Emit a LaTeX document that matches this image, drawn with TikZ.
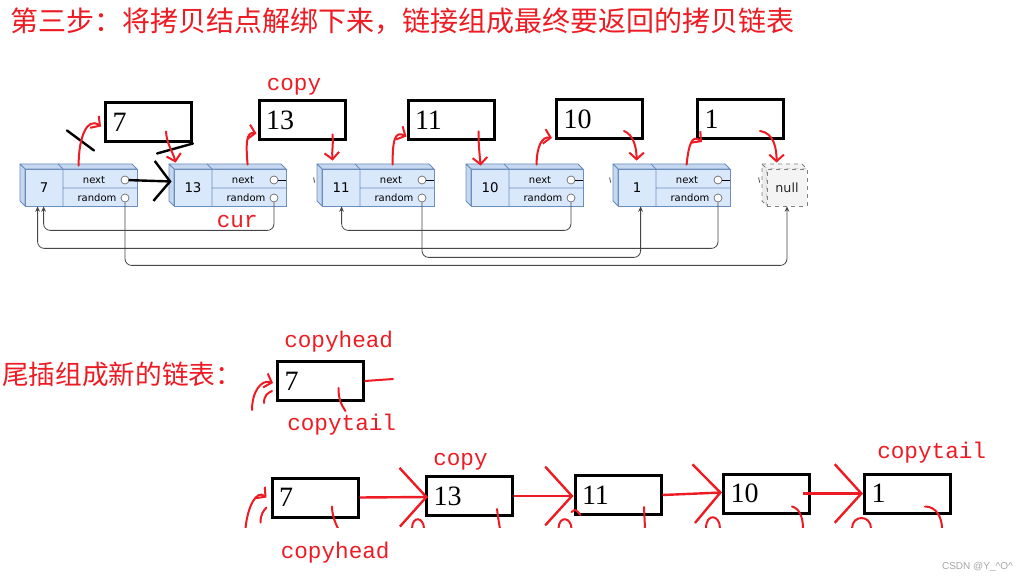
\documentclass[tikz,border=0pt]{standalone}
\usepackage{fontspec}
\setmainfont{Liberation Serif}
\setsansfont{DejaVu Sans}
\setmonofont{Liberation Mono}
\newfontfamily\cjk{Noto Sans CJK SC}
\newfontfamily\wmfont{Liberation Sans}
\usepackage{tikz}
\usetikzlibrary{arrows,arrows.meta,positioning,calc}
\usepackage{xcolor}

\definecolor{handred}{RGB}{237,28,36}
\definecolor{lnfill}{RGB}{218,232,252}
\definecolor{lnside}{RGB}{198,215,240}
\definecolor{lnedge}{RGB}{108,142,191}
\definecolor{nullfill}{RGB}{244,244,244}
\definecolor{randgray}{RGB}{70,70,70}

% one node of the old list: 3d box, value, next and random
\newcommand{\ListNode}[3]{%
  \filldraw[side face] (#2,164) -- (#2+112,164) -- (#2+117,169) -- (#2+5,169) -- cycle;
  \filldraw[side face] (#2,164) -- (#2+5,169) -- (#2+5,206) -- (#2,201) -- cycle;
  \node[front face] (#1) at (#2+61,187.5) {};
  \draw[face line] (#2+38,164) -- (#2+43,169) -- (#2+43,206)
                   (#2+43,188) -- (#2+117,188);
  \node[value] (#1-v) at (#2+24,188) {#3};
  \node[small text] (#1-nt) at (#2+74,180) {next};
  \node[small text] (#1-rt) at (#2+77,198) {random};
  \node[ptr] (#1-nx) at (#2+105,180) {};
  \node[ptr] (#1-rd) at (#2+105,198) {};
}

\begin{document}
\begin{tikzpicture}[x=0.75pt,y=-0.75pt,>=stealth']
  \tikzstyle{side face}=[fill=lnside,draw=lnedge,line width=0.6pt,line join=round]
  \tikzstyle{front face}=[draw=lnedge,fill=lnfill,line width=0.6pt,minimum width=84pt,minimum height=27.75pt,inner sep=0pt]
  \tikzstyle{face line}=[draw=lnedge,line width=0.6pt]
  \tikzstyle{value}=[font=\sffamily\fontsize{10}{11}\selectfont]
  \tikzstyle{small text}=[font=\sffamily\fontsize{7.5}{8}\selectfont,inner sep=0pt]
  \tikzstyle{ptr}=[circle,draw=gray!80!black,fill=white,line width=0.5pt,inner sep=0pt,minimum size=6pt]
  \tikzstyle{rand line}=[draw=randgray,line width=0.6pt,rounded corners=5pt,-{Stealth[length=4pt,width=3.5pt]}]
  \tikzstyle{copy box}=[draw=black,line width=2.25pt,minimum width=64.5pt,minimum height=29.25pt,text width=54pt,align=left,inner xsep=5pt,font=\fontsize{21}{23}\selectfont]
  \tikzstyle{red tag}=[text=handred,font=\ttfamily\fontsize{17}{19}\selectfont,inner sep=0pt]
  \tikzstyle{cjk tag}=[text=handred,font=\cjk\fontsize{20}{22}\selectfont,inner sep=0pt]
  \tikzstyle{hand}=[draw=handred,line width=1.5pt,line cap=round,-{Straight Barb[length=5pt,width=11pt]}]
  \tikzstyle{hand line}=[draw=handred,line width=1.5pt,line cap=round]
  \tikzstyle{big hand}=[draw=handred,line width=1.8pt,-{Straight Barb[length=20pt,width=44pt]}]
  \tikzstyle{black line}=[draw=black,line width=1.8pt,line cap=round]

  \useasboundingbox (0,0) rectangle (1020,580);
  \fill[white] (0,0) rectangle (1020,580);

  \node[text=handred,font=\cjk\fontsize{21}{24}\selectfont,inner sep=0pt,anchor=base west] (title) at (10,32)
    {第三步：将拷贝结点解绑下来，链接组成最终要返回的拷贝链表};

  % old list
  \ListNode{n7}{20}{7}
  \ListNode{n13}{169}{13}
  \ListNode{n11}{317}{11}
  \ListNode{n10}{466}{10}
  \ListNode{n1}{613}{1}

  \filldraw[fill=nullfill,draw=gray,dashed,line width=0.6pt] (762,164) -- (802,164) -- (807,169) -- (767,169) -- cycle;
  \filldraw[fill=gray!15,draw=gray,dashed,line width=0.6pt] (762,164) -- (767,169) -- (767,206) -- (762,201) -- cycle;
  \node[draw=gray,dashed,fill=nullfill,line width=0.6pt,minimum width=30pt,minimum height=27.75pt,inner sep=0pt,
        font=\sffamily\fontsize{9.5}{10}\selectfont,text=gray!30!black] (nul) at (787,187.5) {null};

  \foreach \n in {n13,n11,n10,n1}
    \draw[black,line width=0.6pt] (\n-nx) -- (\n.east |- \n-nx);
  \foreach \n in {n11,n1,nul}
    \draw[randgray,line width=0.6pt] ($(\n.west)+(-8,-10)$) -- +(1,5);

  % random pointers
  \draw[rand line] (n13-rd) |- ($(n7.south west)+(19,24)$) -- ($(n7.south west)+(19,0)$);
  \draw[rand line] (n1-rd) |- ($(n7.south west)+(13,42)$) -- ($(n7.south west)+(13,0)$);
  \draw[rand line] (n7-rd) |- ($(nul.south)+(0,59)$) -- (nul.south);
  \draw[rand line] (n10-rd) |- ($(n11.south west)+(20,24)$) -- ($(n11.south west)+(20,0)$);
  \draw[rand line] (n11-rd) |- ($(n1.south west)+(23,51)$) -- ($(n1.south west)+(23,0)$);

  % copied nodes
  \node[copy box] (c7) at (148.5,122.5) {7};
  \node[copy box] (c13) at (302,120.5) {13};
  \node[copy box] (c11) at (451,120.5) {11};
  \node[copy box] (c10) at (599.5,119) {10};
  \node[copy box] (c1) at (740.5,119) {1};

  \node[red tag,anchor=base west] (tcopy) at ($(c13.north west)+(9,-9)$) {copy};
  \node[red tag,anchor=base west] (tcur) at ($(n13.south west)+(43,21)$) {cur};

  % black marks
  \draw[black line] ($(c7.west)+(-37,8)$) -- ($(c7.west)+(-10,28)$);
  \draw[black line] (c7.south east) -- ++(-36,10);
  \draw[black line,-{Straight Barb[length=12pt,width=30pt]}] (n7-nx) -- ($(n13.west)+(-2,-6)$);

  % red arrows, old -> copy -> old
  \draw[hand] ($(n7.north west)+(54,-3)$) .. controls +(0,-28) and +(-14,-10) .. ($(c7.west)+(-3,4)$);
  \draw[hand] ($(c7.south east)+(-27,-12)$) .. controls +(1,14) and +(-3,-12) .. ($(n13.north west)+(2,-6)$);
  \draw[hand] ($(n13.north west)+(74,-4)$) .. controls +(-2,-22) and +(-10,-2) .. ($(c13.south west)+(-1,-8)$);
  \draw[hand] ($(c13.south east)+(-14,-7)$) .. controls +(1,12) and +(-1,-10) .. ($(n11.north west)+(11,-8)$);
  \draw[hand] ($(n11.north west)+(71,-4)$) .. controls +(0,-24) and +(-12,-6) .. ($(c11.south west)+(0,-5)$);
  \draw[hand] ($(c11.south east)+(-17,-10)$) .. controls +(0,15) and +(-1,-12) .. ($(n10.north west)+(10,-3)$);
  \draw[hand] ($(n10.north west)+(66,-4)$) .. controls +(0,-18) and +(-10,-2) .. ($(c10.south west)+(-3,-2)$);
  \draw[hand] ($(c10.south east)+(-20,-9)$) .. controls +(10,4) and +(0,-12) .. ($(n1.north west)+(19,-8)$);
  \draw[hand] ($(n1.north west)+(69,-4)$) .. controls +(2,-20) and +(-10,-8) .. ($(c1.south west)+(6,2)$);
  \draw[hand] ($(c1.south east)+(-25,-9)$) .. controls +(14,2) and +(0,-14) .. ($(nul.north west)+(10,-6)$);

  % tail insert, first step
  \node[cjk tag,anchor=base west] (sub) at (2,385) {尾插组成新的链表：};
  \node[copy box] (m7) at (320.5,381) {7};
  \node[red tag,anchor=base west] (mhead) at ($(m7.north west)+(8,-12)$) {copyhead};
  \node[red tag,anchor=base west] (mtail) at ($(m7.south west)+(11,29)$) {copytail};
  \draw[hand] ($(m7.west)+(-24,29)$) .. controls +(0,-18) and +(-12,-4) .. ($(m7.west)+(-3,2)$);
  \draw[hand line] ($(m7.west)+(-12,22)$) .. controls +(0,-8) and +(-4,2) .. ($(m7.west)+(-4,10)$);
  \draw[hand line] (m7.east) -- ++(28,-2);
  \draw[hand line] ($(m7.south)+(18,-14)$) .. controls +(0,12) and +(-4,-6) .. ($(m7.south)+(25,9)$);

  % tail insert, new list
  \node[copy box] (b7) at (315,497.5) {7};
  \node[copy box] (b13) at (469.5,496) {13};
  \node[copy box] (b11) at (618,495) {11};
  \node[copy box] (b10) at (766.5,493.5) {10};
  \node[copy box] (b1) at (907.5,493.5) {1};

  \node[red tag,anchor=base west] (bcopy) at ($(b13.north west)+(8,-10)$) {copy};
  \node[red tag,anchor=base west] (bhead) at ($(b7.south west)+(10,40)$) {copyhead};
  \node[red tag,anchor=base west] (btail) at ($(b1.north west)+(14,-14)$) {copytail};

  \draw[big hand] (b7.east) -- ($(b13.west)+(3,1)$);
  \draw[big hand] (b13.east) -- ($(b11.west)+(0,1)$);
  \draw[big hand] (b11.east) -- ($(b10.west)+(0,-1)$);
  \draw[big hand] ($(b10.east)+(-8,0)$) -- (b1.west);

  % cut off scribbles under the new list
  \begin{scope}
    \clip (0,440) rectangle (1020,527);
    \draw[hand] ($(b7.west)+(-25,31)$) .. controls +(2,-22) and +(-10,-8) .. ($(b7.west)+(-4,0)$);
    \draw[hand line] ($(b7.west)+(-10,25)$) .. controls +(0,-8) and +(-3,3) .. ($(b7.west)+(-4,10)$);
    \draw[hand line] ($(b7.south)+(17,-12)$) .. controls +(0,8) and +(-3,-6) .. ($(b7.south)+(23,10)$);
    \draw[hand line] ($(b13.south west)+(-13,12)$) .. controls +(0,-14) and +(0,-12) .. ($(b13.south west)+(-1,12)$);
    \draw[hand line] ($(b13.south)+(27.5,-8)$) .. controls +(1,8) .. ($(b13.south)+(30.5,12)$);
    \draw[hand line] ($(b11.south west)+(-15,13)$) .. controls +(0,-14) and +(0,-12) .. ($(b11.south west)+(-2,13)$);
    \draw[hand line] ($(b11.south west)+(-2,-4)$) .. controls +(4,-3) .. ($(b11.south west)+(7,-1)$);
    \draw[hand line] ($(b11.south)+(26,-9)$) -- ($(b11.south)+(27,12)$);
    \draw[hand line] ($(b10.south west)+(-16,14)$) .. controls +(0,-16) and +(0,-14) .. ($(b10.south west)+(-2,14)$);
    \draw[hand line] ($(b10.south)+(25.5,-8)$) .. controls +(8,2) and +(0,-10) .. ($(b10.south)+(36.5,14)$);
    \draw[hand line] ($(b1.south west)+(-11,14)$) .. controls +(0,-14) and +(0,-14) .. ($(b1.south west)+(8,14)$);
    \draw[hand line] ($(b1.south)+(17.5,-8)$) .. controls +(12,0) and +(0,-10) .. ($(b1.south)+(34.5,14)$);
  \end{scope}

  \node[anchor=base east,inner sep=0pt,text=gray!70,font=\wmfont\fontsize{7.5}{9}\selectfont] (wm) at (1013,569)
    {CSDN @Y\_\textasciicircum O\textasciicircum};
\end{tikzpicture}
\end{document}
